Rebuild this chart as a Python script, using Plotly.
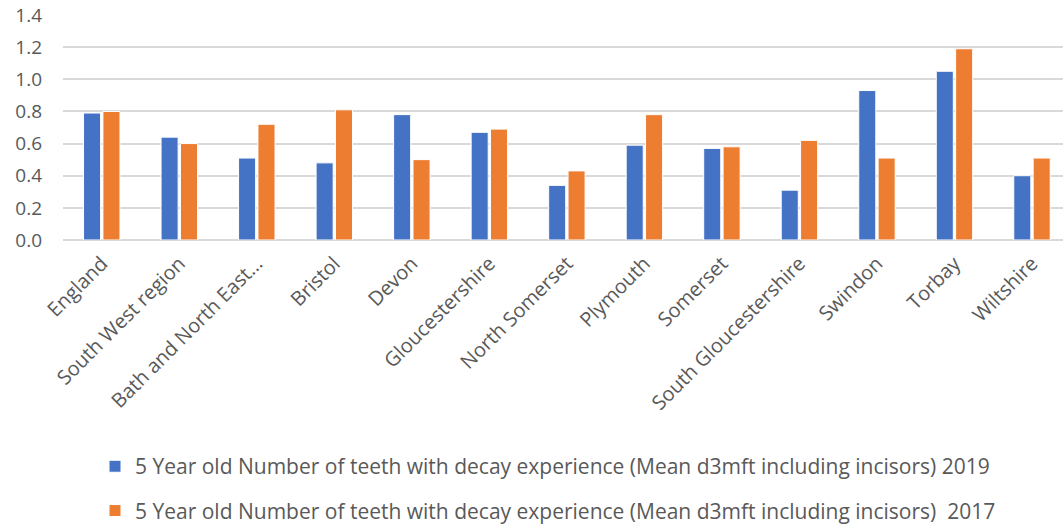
import plotly.graph_objects as go

areas = ["England", "South West region", "Bath and North East…", "Bristol", "Devon",
         "Gloucestershire", "North Somerset", "Plymouth", "Somerset",
         "South Gloucestershire", "Swindon", "Torbay", "Wiltshire"]
mean_2019 = [0.79, 0.64, 0.51, 0.48, 0.78, 0.67, 0.34, 0.59, 0.57, 0.31, 0.93, 1.05, 0.40]
mean_2017 = [0.80, 0.60, 0.72, 0.81, 0.50, 0.69, 0.43, 0.78, 0.58, 0.62, 0.51, 1.19, 0.51]
name_2019 = "5 Year old Number of teeth with decay experience (Mean d3mft including incisors) 2019"
name_2017 = "5 Year old Number of teeth with decay experience (Mean d3mft including incisors)  2017"

FONT = "Open Sans"
GREY = "#595959"

fig = go.Figure()
fig.add_trace(go.Bar(x=areas, y=mean_2019, name=name_2019, legendgroup="a",
                     marker=dict(color="#4472C4", line=dict(color="white", width=1))))
fig.add_trace(go.Bar(x=areas, y=mean_2017, name=name_2017, legendgroup="b",
                     marker=dict(color="#ED7D31", line=dict(color="white", width=1))))

fig.update_layout(
    width=1063, height=526,
    margin=dict(l=63, r=0, t=15, b=286, autoexpand=False),
    plot_bgcolor="white", paper_bgcolor="white",
    barmode="group", bargap=0.5, bargroupgap=0.12,
    font=dict(family=FONT, size=19, color=GREY),
    showlegend=True,
    legend=dict(x=0.032, y=-0.916, xanchor="left", yanchor="top",
                orientation="v", tracegroupgap=14,
                font=dict(family=FONT, size=21, color=GREY),
                itemwidth=30),
    xaxis=dict(range=[-0.5, 12.4], tickangle=-45, showgrid=False,
               showline=False, ticks="", ticklabelstandoff=7,
               automargin=False, tickfont=dict(size=20, color=GREY)),
    yaxis=dict(range=[0, 1.4], dtick=0.2, tickformat=".1f",
               gridcolor="#D9D9D9", gridwidth=1.5, zeroline=True,
               zerolinecolor="#D9D9D9", zerolinewidth=1.5,
               automargin=False, ticklabelstandoff=20,
               tickfont=dict(size=19, color=GREY)),
)

fig.write_html("out.html")
